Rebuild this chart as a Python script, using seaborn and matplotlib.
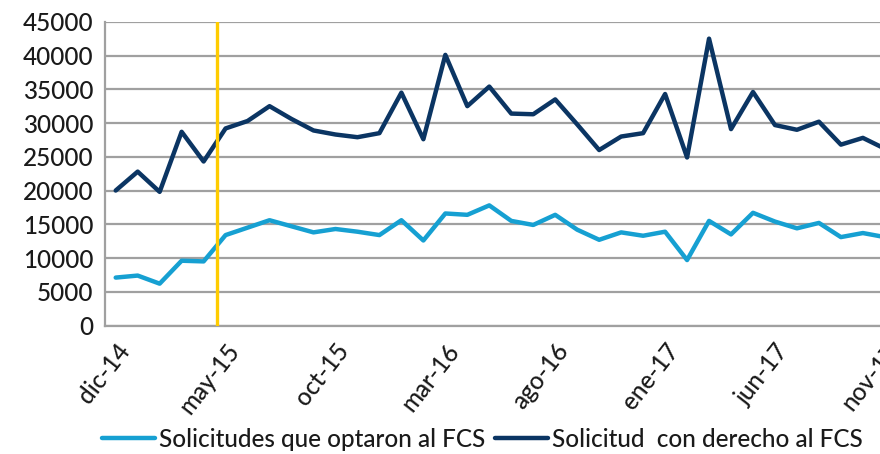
import pandas as pd
import seaborn as sns
import matplotlib.pyplot as plt

# meses dic-14 .. nov-17
meses_es = ['ene', 'feb', 'mar', 'abr', 'may', 'jun', 'jul', 'ago', 'sep', 'oct', 'nov', 'dic']
fechas = pd.date_range('2014-12-01', '2017-11-01', freq='MS')
meses = [f"{meses_es[d.month - 1]}-{str(d.year)[2:]}" for d in fechas]

optaron = [7100, 7400, 6200, 9600, 9500, 13400, 14500, 15600, 14700, 13800,
           14300, 13900, 13400, 15600, 12600, 16600, 16400, 17800, 15500, 14900,
           16400, 14200, 12700, 13800, 13300, 13900, 9700, 15500, 13500, 16700,
           15400, 14400, 15200, 13100, 13700, 13100]
derecho = [20000, 22800, 19800, 28700, 24300, 29200, 30300, 32500, 30600, 28900,
           28300, 27900, 28500, 34500, 27600, 40100, 32500, 35400, 31400, 31300,
           33500, 29800, 26000, 28000, 28500, 34300, 24900, 42500, 29100, 34600,
           29700, 29000, 30200, 26800, 27800, 26200]

serie_1 = 'Solicitudes que optaron al FCS'
serie_2 = 'Solicitud  con derecho al FCS'

df = pd.DataFrame({
    'idx': list(range(len(meses))) * 2,
    'valor': optaron + derecho,
    'serie': [serie_1] * len(meses) + [serie_2] * len(meses),
})

sns.set_style('white')
plt.rcParams['font.family'] = ['Lato', 'DejaVu Sans']
plt.rcParams['font.weight'] = 'medium'

fig = plt.figure(figsize=(8.8, 4.54), dpi=100)
ax = fig.add_axes([0.119, 0.283, 0.899, 0.669])

sns.lineplot(data=df, x='idx', y='valor', hue='serie',
             palette={serie_1: '#16A0D2', serie_2: '#0B3563'},
             linewidth=3.2, ax=ax, legend=True)

# linea de corte (may-15)
ax.axvline(4.6, color='#FFCC00', linewidth=2.4, zorder=5)

ax.set_xlim(-0.5, 35.5)
ax.set_ylim(0, 45000)
ax.set_yticks(range(0, 45001, 5000))
ax.set_yticklabels([str(v) for v in range(0, 45001, 5000)], fontsize=17.5, color='#1a1a1a')
ax.set_xticks(range(0, 36, 5))
ax.set_xticklabels(meses[::5], rotation=52, ha='right', rotation_mode='anchor',
                   fontsize=17.5, color='#1a1a1a')
ax.tick_params(axis='y', length=0, pad=8)
ax.tick_params(axis='x', length=0, pad=10)
ax.set_xlabel('')
ax.set_ylabel('')

ax.yaxis.grid(True, color='#A0A0A0', linewidth=1.6)
ax.set_axisbelow(True)
for s in ['top', 'right']:
    ax.spines[s].set_visible(False)
for s in ['left', 'bottom']:
    ax.spines[s].set_color('#A0A0A0')
    ax.spines[s].set_linewidth(1.6)

h, l = ax.get_legend_handles_labels()
ax.get_legend().remove()
fig.legend(h, l, loc='center', bbox_to_anchor=(0.548, 0.033), ncol=2,
           frameon=False, fontsize=17.5, handlelength=2.2, handletextpad=0.15,
           columnspacing=0.4, labelcolor='#1a1a1a')

fig.savefig('out.png', dpi=100)
